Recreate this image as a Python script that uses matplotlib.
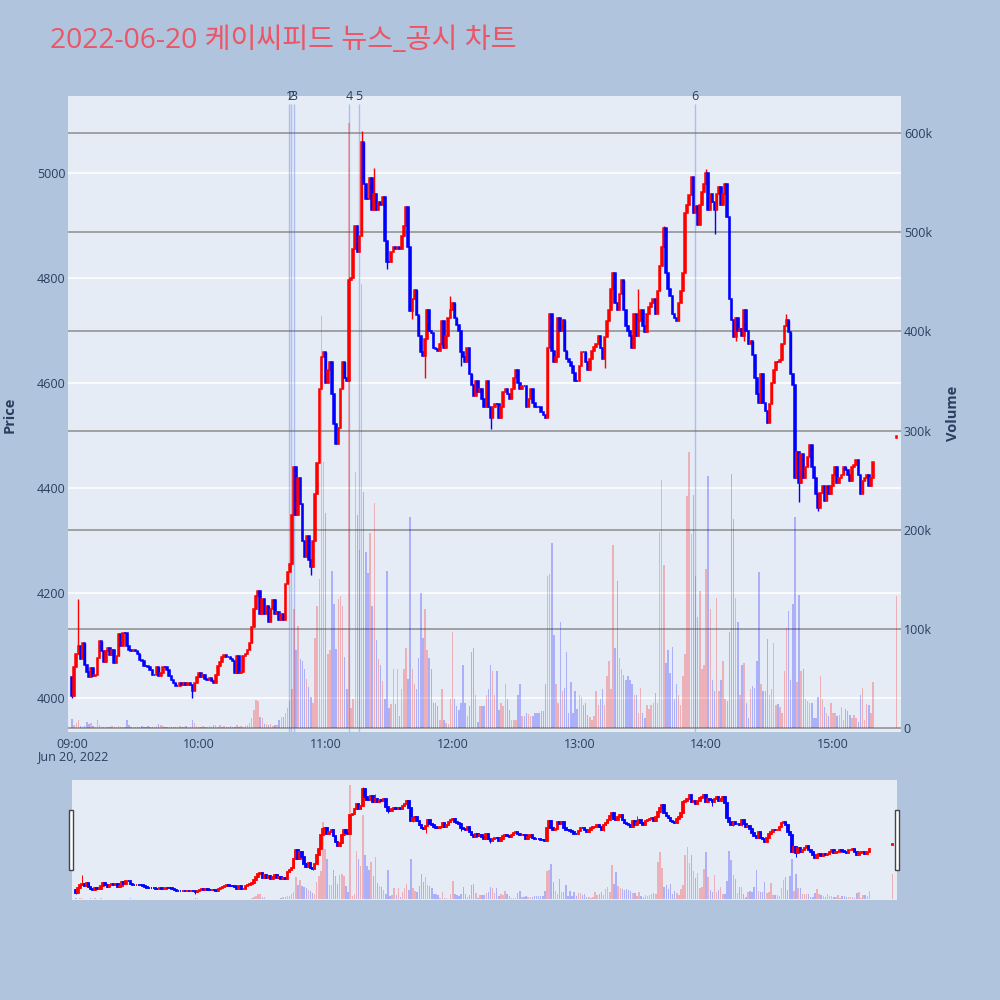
import numpy as np
import pandas as pd
import matplotlib
matplotlib.use("Agg")
import matplotlib.pyplot as plt
from matplotlib.patches import Rectangle
from matplotlib.transforms import blended_transform_factory as blend

plt.rcParams["font.family"] = ["Open Sans", "Noto Sans CJK KR", "DejaVu Sans"]

title = "2022-06-20 케이씨피드 뉴스_공시 차트"
session_start = "2022-06-20 09:00"

# 1-minute closes from 09:00 to 15:19 (open of each bar = previous close)
first_open = 4040
closes = [
    4005, 4060, 4085, 4100, 4075, 4105, 4064, 4050, 4040, 4058,
    4042, 4045, 4077, 4109, 4090, 4070, 4090, 4095, 4083, 4093,
    4067, 4080, 4122, 4100, 4125, 4125, 4100, 4092, 4090, 4092,
    4090, 4085, 4074, 4072, 4061, 4061, 4060, 4055, 4045, 4045,
    4059, 4043, 4048, 4059, 4059, 4055, 4042, 4035, 4030, 4023,
    4023, 4030, 4025, 4030, 4025, 4030, 4025, 4015, 4030, 4040,
    4048, 4040, 4045, 4036, 4035, 4038, 4033, 4030, 4045, 4061,
    4070, 4078, 4083, 4078, 4078, 4075, 4072, 4048, 4080, 4048,
    4050, 4080, 4085, 4093, 4105, 4135, 4170, 4195, 4204, 4160,
    4190, 4160, 4175, 4145, 4170, 4188, 4160, 4165, 4150, 4160,
    4150, 4218, 4240, 4255, 4350, 4440, 4350, 4420, 4370, 4300,
    4270, 4310, 4263, 4250, 4300, 4390, 4448, 4590, 4650, 4660,
    4600, 4625, 4640, 4580, 4522, 4485, 4515, 4590, 4640, 4610,
    4604, 4796, 4800, 4855, 4900, 4850, 4880, 5060, 4980, 4950,
    4950, 4990, 4930, 4960, 4930, 4945, 4940, 4955, 4870, 4830,
    4830, 4850, 4860, 4855, 4860, 4855, 4880, 4900, 4935, 4860,
    4737, 4760, 4778, 4730, 4690, 4660, 4652, 4685, 4740, 4700,
    4696, 4668, 4665, 4661, 4675, 4718, 4668, 4690, 4725, 4740,
    4753, 4725, 4711, 4700, 4660, 4650, 4640, 4668, 4618, 4597,
    4576, 4604, 4583, 4590, 4570, 4555, 4604, 4555, 4533, 4555,
    4560, 4560, 4533, 4555, 4583, 4590, 4580, 4570, 4590, 4610,
    4625, 4600, 4590, 4595, 4595, 4555, 4570, 4590, 4562, 4555,
    4555, 4555, 4545, 4540, 4533, 4667, 4732, 4661, 4640, 4650,
    4725, 4700, 4720, 4661, 4647, 4640, 4632, 4620, 4604, 4604,
    4632, 4660, 4660, 4640, 4625, 4647, 4661, 4670, 4675, 4690,
    4668, 4647, 4689, 4718, 4740, 4780, 4810, 4752, 4739, 4770,
    4796, 4740, 4710, 4700, 4690, 4668, 4732, 4690, 4718, 4740,
    4710, 4697, 4732, 4745, 4752, 4760, 4732, 4775, 4824, 4860,
    4895, 4810, 4780, 4767, 4732, 4725, 4718, 4752, 4775, 4810,
    4924, 4940, 4958, 4993, 4924, 4938, 4902, 4940, 4965, 4980,
    5000, 4930, 4960, 4945, 4930, 4960, 4973, 4940, 4960, 4980,
    4916, 4760, 4720, 4689, 4725, 4700, 4703, 4690, 4740, 4700,
    4675, 4680, 4653, 4610, 4580, 4562, 4618, 4562, 4548, 4525,
    4560, 4600, 4625, 4640, 4640, 4645, 4675, 4710, 4720, 4697,
    4618, 4597, 4420, 4470, 4410, 4465, 4420, 4440, 4460, 4483,
    4440, 4420, 4390, 4363, 4391, 4404, 4375, 4405, 4390, 4405,
    4425, 4440, 4410, 4420, 4425, 4440, 4435, 4425, 4413, 4440,
    4445, 4453, 4425, 4390, 4413, 4420, 4425, 4405, 4420, 4450,
]

# volume per minute [thousand shares]
volumes_k = [
    9, 3, 5, 8, 2, 1, 2, 6, 4, 5,
    2, 1, 8, 3, 1, 1, 1, 1, 1, 2,
    1, 1, 2, 1, 1, 1, 8, 3, 1, 1,
    1, 1, 1, 2, 1, 1, 2, 1, 1, 1,
    2, 4, 3, 2, 1, 1, 1, 1, 1, 1,
    1, 2, 1, 1, 2, 1, 1, 8, 5, 2,
    1, 1, 2, 1, 1, 2, 1, 3, 3, 1,
    3, 1, 2, 1, 1, 2, 1, 1, 3, 1,
    2, 1, 2, 3, 5, 10, 18, 29, 28, 11,
    10, 4, 4, 3, 4, 2, 3, 3, 8, 11,
    11, 15, 20, 28, 40, 120, 79, 103, 70, 68,
    60, 50, 42, 32, 26, 91, 123, 150, 415, 268,
    217, 75, 79, 158, 125, 80, 130, 133, 123, 72,
    40, 610, 20, 30, 258, 215, 180, 448, 238, 178,
    156, 197, 123, 227, 89, 70, 64, 48, 30, 158,
    20, 25, 60, 25, 60, 12, 40, 60, 81, 50,
    213, 60, 45, 40, 71, 136, 91, 120, 79, 71,
    60, 26, 26, 22, 8, 40, 8, 5, 4, 30,
    97, 30, 22, 18, 26, 64, 26, 12, 22, 77,
    81, 34, 6, 22, 22, 22, 34, 40, 64, 58,
    34, 58, 18, 26, 22, 45, 30, 18, 8, 8,
    8, 34, 45, 12, 12, 15, 14, 12, 12, 15,
    15, 15, 17, 17, 45, 153, 155, 187, 94, 45,
    26, 107, 38, 41, 77, 15, 47, 15, 38, 19,
    34, 32, 23, 26, 13, 11, 8, 12, 38, 23,
    30, 40, 23, 53, 68, 40, 185, 81, 148, 71,
    60, 54, 49, 53, 49, 45, 34, 34, 15, 41,
    15, 10, 23, 19, 23, 26, 36, 26, 198, 250,
    165, 66, 79, 56, 82, 30, 45, 34, 23, 53,
    75, 234, 278, 196, 235, 153, 112, 138, 60, 64,
    161, 254, 120, 49, 38, 131, 38, 49, 68, 30,
    28, 97, 256, 211, 131, 107, 34, 64, 66, 26,
    10, 40, 43, 41, 68, 157, 45, 38, 38, 90,
    34, 40, 86, 23, 25, 21, 15, 58, 101, 118,
    49, 125, 213, 47, 134, 58, 60, 30, 28, 26,
    26, 10, 10, 32, 53, 30, 21, 15, 12, 26,
    15, 15, 12, 13, 21, 8, 19, 17, 13, 10,
    13, 10, 6, 34, 41, 8, 25, 23, 15, 47,
]

# wicks that stick out beyond the body (minute index -> price)
wick_high = {3: 4190, 137: 5080, 143: 5010, 179: 4767, 268: 4780,
             280: 4899, 300: 5008, 338: 4732}
wick_low = {0: 4000, 57: 4000, 113: 4235, 126: 4485, 149: 4818, 161: 4722,
            167: 4610, 184: 4632, 198: 4512, 252: 4630, 304: 4884,
            314: 4680, 318: 4680, 344: 4374, 353: 4356}

# closing auction bar at 15:30
auction_time = "2022-06-20 15:30"
auction_open = 4495
auction_close = 4500
auction_volume_k = 133

news_times = ["10:42:42", "10:43:30", "10:45:00", "11:11:00", "11:15:48", "13:54:48"]
news_labels = ["1", "2", "3", "4", "5", "6"]

# ---- assemble bars ----
t0 = pd.Timestamp(session_start)
times = list(pd.date_range(session_start, periods=len(closes), freq="min"))
times.append(pd.Timestamp(auction_time))
x = np.array([(t - t0).total_seconds() / 60 for t in times])
c = np.array(closes + [auction_close], dtype=float)
o = np.array([first_open] + closes[:-1] + [auction_open], dtype=float)
h = np.maximum(o, c)
l = np.minimum(o, c)
for i, v in wick_high.items():
    h[i] = v
for i, v in wick_low.items():
    l[i] = v
vol = np.array(volumes_k + [auction_volume_k], dtype=float)
up = c > o
cols = np.where(up, "#ff0000", "#0000ff")
news_x = [(pd.Timestamp("2022-06-20 " + s) - t0).total_seconds() / 60 for s in news_times]

XLIM = (-1.9, 392.2)
PLIM = (3936, 5147)
VLIM = (-3.7, 637)
TXT = "#2a3f5f"


def draw_panel(rect, body_lw, wick_lw, vol_w):
    axv = fig.add_axes(rect)
    ax = fig.add_axes(rect)
    ax.patch.set_visible(False)
    axv.set_facecolor("#E5ECF6")
    axv.bar(x, vol, width=vol_w, color=cols, alpha=0.25, linewidth=0, zorder=2)
    ax.vlines(x, l, h, colors=cols, linewidth=wick_lw, zorder=3)
    ax.bar(x, c - o, bottom=o, width=0.75, color=cols, edgecolor=cols,
           linewidth=body_lw, zorder=4)
    for a in (ax, axv):
        a.set_xlim(*XLIM)
        for s in a.spines.values():
            s.set_visible(False)
    ax.set_ylim(*PLIM)
    axv.set_ylim(*VLIM)
    return ax, axv


fig = plt.figure(figsize=(10, 10), dpi=100, facecolor="#B0C4DE")

# main chart
ax, axv = draw_panel([0.068, 0.268, 0.833, 0.636], 1.1, 1.0, 0.7)
axv.set_axisbelow(True)
axv.set_yticks(range(0, 601, 100))
axv.set_yticklabels(["0"] + ["%dk" % v for v in range(100, 601, 100)])
axv.yaxis.tick_right()
axv.yaxis.grid(True, color="#8c8c8c", linewidth=1.1)
axv.set_xticks([])
axv.tick_params(axis="y", length=0, pad=2, labelsize=9, labelcolor=TXT)

price_ticks = list(range(4000, 5001, 200))
for p in price_ticks:
    axv.plot([0, 1], [p, p], transform=blend(axv.transAxes, ax.transData),
             color="white", linewidth=1.1, zorder=0.9)
ax.set_yticks(price_ticks)
ax.set_yticklabels([str(p) for p in price_ticks])
ax.set_xticks(range(0, 361, 60))
ax.set_xticklabels([(t0 + pd.Timedelta(minutes=m)).strftime("%H:%M") for m in range(0, 361, 60)])
ax.tick_params(axis="both", length=0, labelsize=9, labelcolor=TXT)
ax.tick_params(axis="y", pad=2)
ax.tick_params(axis="x", pad=4)

# news markers
axv.vlines(news_x, 0, 0.987, transform=blend(axv.transData, axv.transAxes),
           color="#4169e1", alpha=0.35, linewidth=1, zorder=1.5)
for nx, lab in zip(news_x, news_labels):
    ax.text(nx, 0.999, lab, transform=blend(ax.transData, ax.transAxes),
            ha="center", va="center", fontsize=9, color=TXT)

fig.text(0.0725, 1 - 0.757, t0.strftime("%b %d, %Y").replace(" 0", " "),
         ha="center", va="center", fontsize=9, color=TXT)
fig.text(0.010, 1 - 0.415, "Price", rotation=90, ha="center", va="center",
         fontsize=10.5, fontweight="bold", color=TXT)
fig.text(0.953, 1 - 0.413, "Volume", rotation=90, ha="center", va="center",
         fontsize=10.5, fontweight="bold", color=TXT)
fig.text(0.050, 1 - 0.041, title, ha="left", va="center", fontsize=20.3,
         color="#ec5566")

# range slider
axs, axsv = draw_panel([0.072, 0.100, 0.825, 0.120], 1.3, 0.7, 0.7)
for a in (axs, axsv):
    a.set_xticks([])
    a.set_yticks([])
for hx in (0.069, 0.895):
    fig.patches.append(Rectangle((hx, 0.130), 0.004, 0.060, transform=fig.transFigure,
                                 facecolor="white", edgecolor="#444444", linewidth=1))

fig.savefig("out.png", dpi=100, facecolor=fig.get_facecolor())
